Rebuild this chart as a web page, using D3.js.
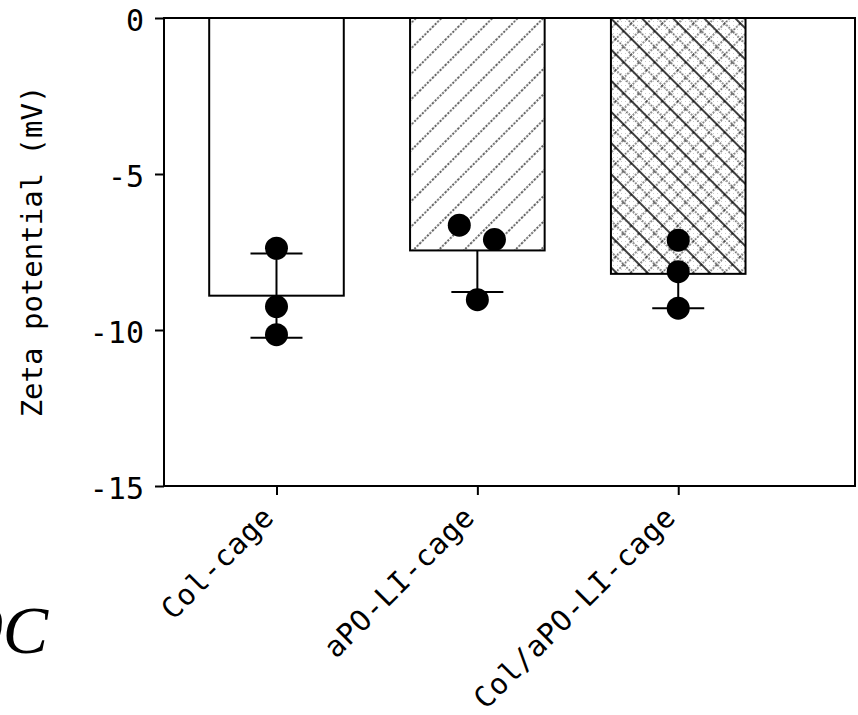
<!DOCTYPE html>
<html>
<head>
<meta charset="utf-8">
<script src="https://cdn.jsdelivr.net/npm/d3@7"></script>
<style>
  body { margin: 0; background: #fff; }
  svg { display: block; }
  text { font-family: "DejaVu Sans Mono", monospace; fill: #000; }
</style>
</head>
<body>
<div id="chart"></div>
<script>
// values
const categories = ["Col-cage", "aPO-LI-cage", "Col/aPO-LI-cage"];
const means = [-8.9, -7.45, -8.2];
const errLow = [1.35, 1.33, 1.1];
const errHigh = [1.35, null, null];
const points = [
  [-7.38, -9.25, -10.15],
  [-6.64, -7.1, -9.03],
  [-7.12, -8.13, -9.3]
];
const pointJitter = [
  [0, 0, 0],
  [-0.09, 0.085, 0],
  [0, 0, 0]
];
const yTicks = [0, -5, -10, -15];
const yTitle = "Zeta potential (mV)";
const figLabel = "10C";

const W = 858, H = 715;
const mLeft = 164, mRight = 855, mTop = 18, mBottom = 486;

const svg = d3.select("#chart").append("svg")
  .attr("width", W)
  .attr("height", H);

const defs = svg.append("defs");

// "/" hatch for the second bar
const hatch = defs.append("pattern")
  .attr("id", "hatch")
  .attr("patternUnits", "userSpaceOnUse")
  .attr("width", 18).attr("height", 18)
  .attr("patternTransform", "rotate(45)");
hatch.append("line")
  .attr("x1", 1).attr("y1", 0).attr("x2", 1).attr("y2", 18)
  .attr("stroke", "#222").attr("stroke-width", 1.4)
  .attr("stroke-dasharray", "2,1.5");

// crosshatch for the third bar: dotted "/" plus solid/dotted "\"
const speck = defs.append("pattern")
  .attr("id", "speck")
  .attr("patternUnits", "userSpaceOnUse")
  .attr("width", 4).attr("height", 4);
speck.append("rect").attr("width", 4).attr("height", 4).attr("fill", "#fff");
speck.append("rect").attr("x", 1).attr("y", 1).attr("width", 1).attr("height", 1).attr("fill", "#ccc");

const crossA = defs.append("pattern")
  .attr("id", "crossA")
  .attr("patternUnits", "userSpaceOnUse")
  .attr("width", 11).attr("height", 11)
  .attr("patternTransform", "rotate(45)");
crossA.append("line")
  .attr("x1", 1).attr("y1", 0).attr("x2", 1).attr("y2", 11)
  .attr("stroke", "#222").attr("stroke-width", 1.3)
  .attr("stroke-dasharray", "1.6,1.6");

const crossB = defs.append("pattern")
  .attr("id", "crossB")
  .attr("patternUnits", "userSpaceOnUse")
  .attr("width", 22).attr("height", 22)
  .attr("patternTransform", "rotate(-45)");
crossB.append("line")
  .attr("x1", 1).attr("y1", 0).attr("x2", 1).attr("y2", 22)
  .attr("stroke", "#000").attr("stroke-width", 1.5);
crossB.append("line")
  .attr("x1", 12).attr("y1", 0).attr("x2", 12).attr("y2", 22)
  .attr("stroke", "#222").attr("stroke-width", 1.3)
  .attr("stroke-dasharray", "1.6,1.6");

const barLayers = [
  ["#fff"],
  ["#fff", "url(#hatch)"],
  ["url(#speck)", "url(#crossA)", "url(#crossB)"]
];

const x = d3.scaleLinear().domain([0.44, 3.88]).range([mLeft, mRight]);
const y = d3.scaleLinear().domain([-15, 0]).range([mBottom, mTop]);
const barW = 0.67;

const data = categories.map((c, i) => ({
  cat: c, i, pos: i + 1, mean: means[i],
  lo: errLow[i], hi: errHigh[i], pts: points[i], jit: pointJitter[i]
}));

// bars
data.forEach((d, i) => {
  const bx = x(d.pos - barW / 2), bw = x(d.pos + barW / 2) - bx;
  const by = y(0), bh = y(d.mean) - y(0);
  barLayers[i].forEach(fill => {
    svg.append("rect")
      .attr("x", bx).attr("y", by).attr("width", bw).attr("height", bh)
      .attr("fill", fill);
  });
  svg.append("rect")
    .attr("x", bx).attr("y", by).attr("width", bw).attr("height", bh)
    .attr("fill", "none").attr("stroke", "#000").attr("stroke-width", 2);
});

// error bars
const capHalf = 26;
const err = svg.append("g").attr("stroke", "#000").attr("stroke-width", 2);
data.forEach(d => {
  const cx = x(d.pos);
  const yLo = d.mean - d.lo;
  err.append("line").attr("x1", cx).attr("x2", cx)
    .attr("y1", y(d.mean)).attr("y2", y(yLo));
  err.append("line").attr("x1", cx - capHalf).attr("x2", cx + capHalf)
    .attr("y1", y(yLo)).attr("y2", y(yLo));
  if (d.hi != null) {
    const yHi = d.mean + d.hi;
    err.append("line").attr("x1", cx).attr("x2", cx)
      .attr("y1", y(d.mean)).attr("y2", y(yHi));
    err.append("line").attr("x1", cx - capHalf).attr("x2", cx + capHalf)
      .attr("y1", y(yHi)).attr("y2", y(yHi));
  }
});

// individual points
data.forEach(d => {
  svg.append("g").selectAll("circle")
    .data(d.pts.map((v, k) => ({ v, dx: d.jit[k] })))
    .enter()
    .append("circle")
    .attr("cx", p => x(d.pos + p.dx))
    .attr("cy", p => y(p.v))
    .attr("r", 11.5)
    .attr("fill", "#000");
});

// frame
svg.append("rect")
  .attr("x", mLeft).attr("y", mTop)
  .attr("width", mRight - mLeft).attr("height", mBottom - mTop)
  .attr("fill", "none").attr("stroke", "#000").attr("stroke-width", 2);

// y axis
const yAxis = d3.axisLeft(y)
  .tickValues(yTicks)
  .tickSize(9)
  .tickPadding(11)
  .tickFormat(d => String(d));
const gy = svg.append("g")
  .attr("transform", `translate(${mLeft},0)`)
  .call(yAxis);
gy.select(".domain").remove();
gy.selectAll("line").attr("stroke-width", 2);
gy.selectAll("text")
  .style("font-family", '"DejaVu Sans Mono", monospace')
  .style("font-size", "30px")
  .attr("dy", "0.42em");

// x axis
const xAxis = d3.axisBottom(x)
  .tickValues(categories.map((c, i) => i + 1))
  .tickSize(9)
  .tickFormat("");
const gx = svg.append("g")
  .attr("transform", `translate(0,${mBottom})`)
  .call(xAxis);
gx.select(".domain").remove();
gx.selectAll("line").attr("stroke-width", 2);

svg.append("g").selectAll("text")
  .data(categories)
  .enter()
  .append("text")
  .attr("transform", (c, i) => `translate(${x(i + 1) - 1},${mBottom + 33}) rotate(-45)`)
  .attr("text-anchor", "end")
  .style("font-size", "29px")
  .style("letter-spacing", "0.6px")
  .text(c => c);

// y title
svg.append("text")
  .attr("transform", `translate(42,${(85 + 418) / 2}) rotate(-90)`)
  .attr("text-anchor", "middle")
  .style("font-size", "29px")
  .text(yTitle);

// partial figure label at bottom left
svg.append("text")
  .attr("x", 48)
  .attr("y", 653)
  .attr("text-anchor", "end")
  .style("font-family", '"Liberation Serif", serif')
  .style("font-style", "italic")
  .style("font-size", "68px")
  .text(figLabel);
</script>
</body>
</html>
